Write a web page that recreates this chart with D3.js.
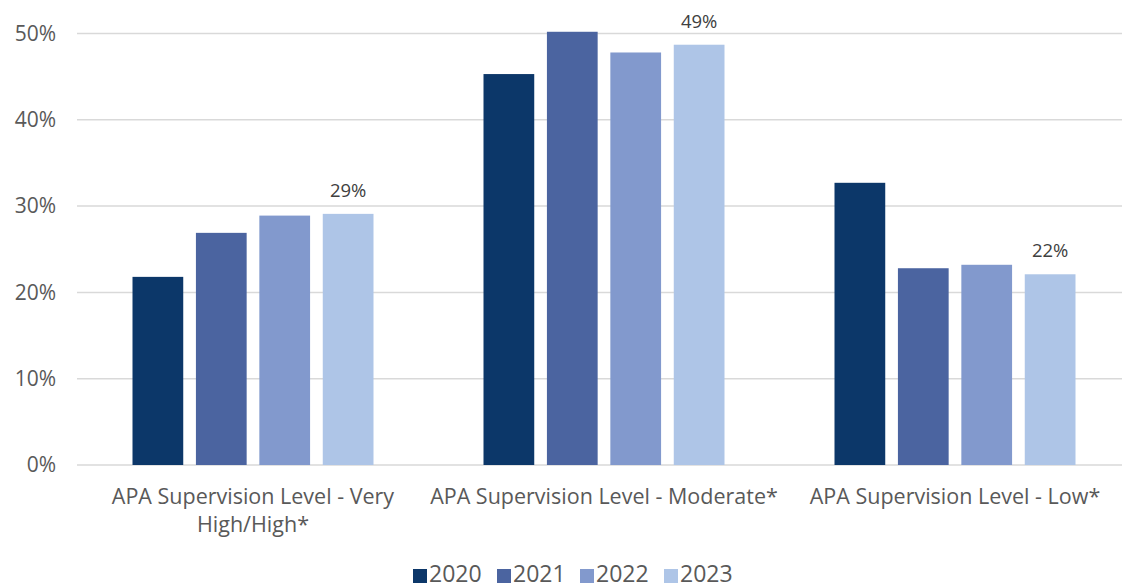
<!DOCTYPE html>
<html><head><meta charset="utf-8">
<script src="https://cdn.jsdelivr.net/npm/d3@7"></script>
<style>body{margin:0;background:#fff}svg{display:block;font-family:"Open Sans",sans-serif}</style>
</head><body><svg id="c" width="1122" height="588"></svg>
<script>
const categories = ["APA Supervision Level - Very High/High*", "APA Supervision Level - Moderate*", "APA Supervision Level - Low*"];
const categoryLines = [["APA Supervision Level - Very", "High/High*"], ["APA Supervision Level - Moderate*"], ["APA Supervision Level - Low*"]];
const years = ["2020", "2021", "2022", "2023"];
const v2020 = [21.8, 45.3, 32.7];
const v2021 = [26.9, 50.2, 22.8];
const v2022 = [28.9, 47.8, 23.2];
const v2023 = [29.1, 48.7, 22.1];
const yTicks = [0, 10, 20, 30, 40, 50];
const colors = ["#0c3769", "#4b64a0", "#8299cd", "#aec5e7"];
const series = [v2020, v2021, v2022, v2023];

const svg = d3.select("#c");
const x0 = d3.scaleBand().domain(categories).range([77.5, 1130.5]).padding(0);
const x1 = d3.scaleBand().domain(years).range([55, 296]).paddingInner(0.2);
const y = d3.scaleLinear().domain([0, 50]).range([465, 33.5]);

// gridlines
svg.append("g").selectAll("line").data(yTicks).join("line")
  .attr("x1", 77).attr("x2", 1122)
  .attr("y1", d => y(d)).attr("y2", d => y(d))
  .attr("stroke", "#d9d9d9").attr("stroke-width", 1.5);

// y labels
svg.append("g").selectAll("text").data(yTicks).join("text")
  .attr("x", 56).attr("y", d => y(d)).attr("dy", "0.35em")
  .attr("text-anchor", "end").attr("fill", "#595959").attr("font-size", 21)
  .text(d => d + "%");

// bars
const g = svg.append("g");
categories.forEach((c, ci) => {
  years.forEach((yr, yi) => {
    const v = series[yi][ci];
    g.append("rect")
      .attr("x", x0(c) + x1(yr)).attr("width", x1.bandwidth())
      .attr("y", y(v)).attr("height", y(0) - y(v))
      .attr("fill", colors[yi]);
  });
  // data label on 2023
  const v = v2023[ci];
  g.append("text")
    .attr("x", x0(c) + x1("2023") + x1.bandwidth() / 2).attr("y", y(v) - 17)
    .attr("text-anchor", "middle").attr("fill", "#404040").attr("font-size", 18.5)
    .text(Math.round(v) + "%");
});

// category labels
categories.forEach((c, ci) => {
  const t = svg.append("text").attr("text-anchor", "middle").attr("fill", "#595959").attr("font-size", 21.5);
  categoryLines[ci].forEach((ln, li) => {
    t.append("tspan").attr("x", x0(c) + x0.bandwidth() / 2).attr("y", 504 + li * 28).text(ln);
  });
});

// legend
const legX = [413, 497, 580, 664];
const leg = svg.append("g");
years.forEach((yr, i) => {
  leg.append("rect").attr("x", legX[i]).attr("y", 569).attr("width", 14).attr("height", 14).attr("fill", colors[i]);
  leg.append("text").attr("x", legX[i] + 16).attr("y", 582)
    .attr("fill", "#595959").attr("font-size", 23).text(yr);
});
</script></body></html>
